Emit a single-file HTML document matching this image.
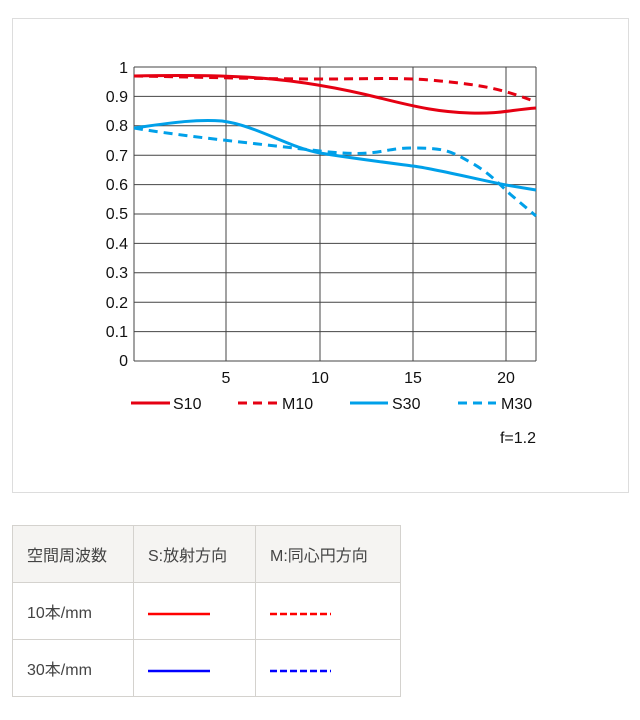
<!DOCTYPE html>
<html><head><meta charset="utf-8"><style>
body{margin:0;background:#fff;width:640px;height:720px;position:relative;font-family:"Liberation Sans","Noto Sans CJK JP",sans-serif}
.box{position:absolute;left:12px;top:18px;width:615px;height:473px;border:1px solid #ddd}
table{position:absolute;left:12px;top:525px;border-collapse:collapse;font-size:16px;color:#444}
td{border:1px solid #d4d2ce;height:57px;padding:0 0 0 14px;box-sizing:border-box}
tr.h td{background:#f5f4f2}
</style></head><body>
<div class="box"></div>
<svg width="640" height="500" style="position:absolute;left:0;top:0" font-family="Liberation Sans, sans-serif">
<g stroke="#444" stroke-width="1">
<line x1="134" y1="67" x2="536" y2="67"/><line x1="134" y1="96.4" x2="536" y2="96.4"/><line x1="134" y1="125.8" x2="536" y2="125.8"/><line x1="134" y1="155.2" x2="536" y2="155.2"/><line x1="134" y1="184.6" x2="536" y2="184.6"/><line x1="134" y1="214" x2="536" y2="214"/><line x1="134" y1="243.4" x2="536" y2="243.4"/><line x1="134" y1="272.8" x2="536" y2="272.8"/><line x1="134" y1="302.2" x2="536" y2="302.2"/><line x1="134" y1="331.6" x2="536" y2="331.6"/><line x1="134" y1="361" x2="536" y2="361"/>
<line x1="134" y1="67" x2="134" y2="361"/><line x1="226" y1="67" x2="226" y2="361"/><line x1="320" y1="67" x2="320" y2="361"/><line x1="413" y1="67" x2="413" y2="361"/><line x1="506" y1="67" x2="506" y2="361"/><line x1="536" y1="67" x2="536" y2="361"/>
</g>
<g font-size="16" fill="#111" text-anchor="end">
<text x="128" y="73">1</text><text x="128" y="102">0.9</text><text x="128" y="131">0.8</text><text x="128" y="161">0.7</text><text x="128" y="190">0.6</text><text x="128" y="219">0.5</text><text x="128" y="249">0.4</text><text x="128" y="278">0.3</text><text x="128" y="308">0.2</text><text x="128" y="337">0.1</text><text x="128" y="366">0</text>
</g>
<g font-size="16" fill="#111" text-anchor="middle">
<text x="226" y="383">5</text><text x="320" y="383">10</text><text x="413" y="383">15</text><text x="506" y="383">20</text>
</g>
<g fill="none" stroke-width="3">
<path d="M134 76 C180 75 220 75 260 78 S340 88 380 98 S440 112 470 113 S510 110 536 108" stroke="#e50012"/>
<path d="M134 76 C200 77 260 79 320 79 S400 77 440 81 S500 88 536 102" stroke="#e50012" stroke-dasharray="9 6"/>
<path d="M134 128 C170 123 195 119 222 121 C255 125 290 148 320 153 S390 163 413 166 S480 180 506 185 L536 190" stroke="#00a0e9"/>
<path d="M134 128 C180 136 260 144 320 151 S380 148 413 148 S450 151 470 162 S500 185 510 194 L536 216" stroke="#00a0e9" stroke-dasharray="9 6"/>
</g>
<g stroke-width="3">
<line x1="131" y1="403" x2="170" y2="403" stroke="#e50012"/>
<line x1="238" y1="403" x2="277" y2="403" stroke="#e50012" stroke-dasharray="9 6"/>
<line x1="350" y1="403" x2="388" y2="403" stroke="#00a0e9"/>
<line x1="458" y1="403" x2="496" y2="403" stroke="#00a0e9" stroke-dasharray="9 6"/>
</g>
<g font-size="16" fill="#111">
<text x="173" y="409">S10</text><text x="282" y="409">M10</text><text x="392" y="409">S30</text><text x="501" y="409">M30</text>
<text x="536" y="443" text-anchor="end">f=1.2</text>
</g>
</svg>
<table>
<tr class="h"><td style="width:121px">空間周波数</td><td style="width:122px">S:放射方向</td><td style="width:145px">M:同心円方向</td></tr>
<tr><td>10本/mm</td><td><svg width="64" height="12" style="display:block;margin-top:5px"><line x1="0" y1="6" x2="62" y2="6" stroke="#f00" stroke-width="2.5"/></svg></td><td><svg width="64" height="12" style="display:block;margin-top:5px"><line x1="0" y1="6" x2="61" y2="6" stroke="#f00" stroke-width="2.5" stroke-dasharray="7 3"/></svg></td></tr>
<tr><td>30本/mm</td><td><svg width="64" height="12" style="display:block;margin-top:5px"><line x1="0" y1="6" x2="62" y2="6" stroke="#00f" stroke-width="2.5"/></svg></td><td><svg width="64" height="12" style="display:block;margin-top:5px"><line x1="0" y1="6" x2="61" y2="6" stroke="#00f" stroke-width="2.5" stroke-dasharray="7 3"/></svg></td></tr>
</table>
</body></html>
